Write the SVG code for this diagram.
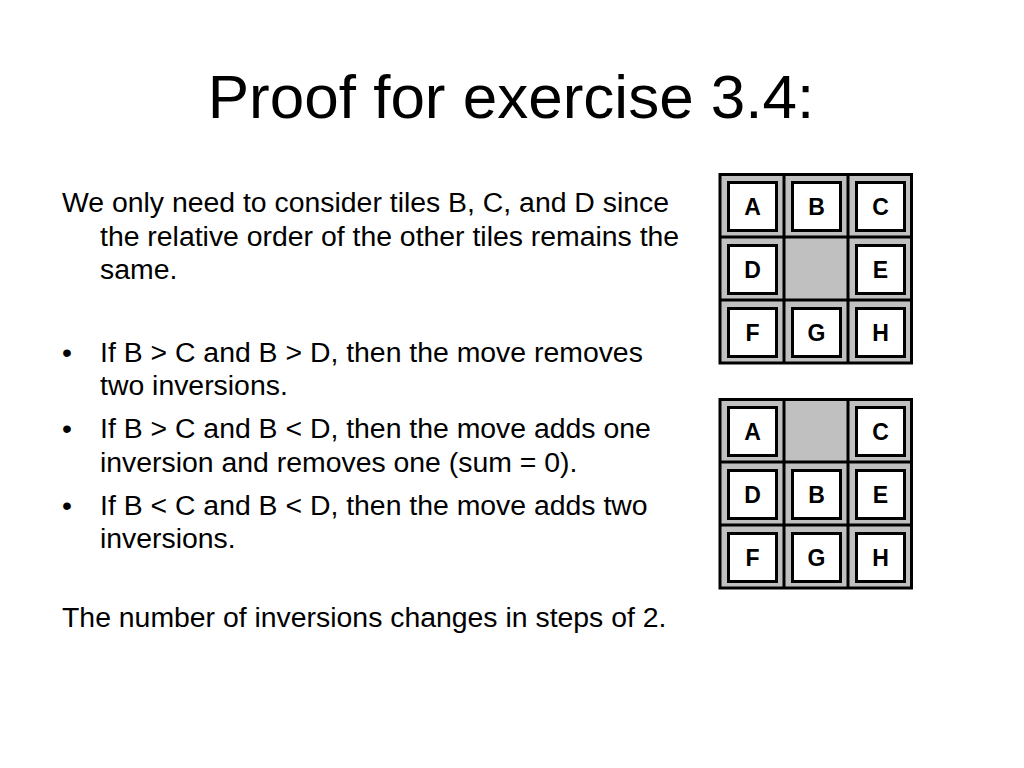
<svg xmlns="http://www.w3.org/2000/svg" width="1024" height="768" viewBox="0 0 1024 768">
<style>
.title{font-family:"Liberation Sans",Arial,sans-serif;font-size:62px;fill:#000}
.body{font-family:"Liberation Sans",Arial,sans-serif;font-size:28.4px;fill:#000}
.frame{fill:#C0C0C0;stroke:#000;stroke-width:3}
.div{stroke:#000;stroke-width:3}
.tile{fill:#fff;stroke:#000;stroke-width:3}
.lbl{font-family:"Liberation Sans",Arial,sans-serif;font-size:23px;font-weight:bold;text-anchor:middle;fill:#000}
</style>
<rect width="1024" height="768" fill="#fff"/>
<text class="title" x="511" y="118" text-anchor="middle">Proof for exercise 3.4:</text>
<g id="text">
<text class="body" x="62" y="212">We only need to consider tiles B, C, and D since</text>
<text class="body" x="100" y="246">the relative order of the other tiles remains the</text>
<text class="body" x="100" y="279">same.</text>
<text class="body" x="62" y="362">•</text>
<text class="body" x="100" y="362">If B &gt; C and B &gt; D, then the move removes</text>
<text class="body" x="100" y="395">two inversions.</text>
<text class="body" x="62" y="438">•</text>
<text class="body" x="100" y="438">If B &gt; C and B &lt; D, then the move adds one</text>
<text class="body" x="100" y="472">inversion and removes one (sum = 0).</text>
<text class="body" x="62" y="515">•</text>
<text class="body" x="100" y="515">If B &lt; C and B &lt; D, then the move adds two</text>
<text class="body" x="100" y="548">inversions.</text>
<text class="body" x="62" y="627">The number of inversions changes in steps of 2.</text>
</g>
<g id="board1">
<rect class="frame" x="720" y="174.5" width="191.5" height="188.5"/>
<line class="div" x1="784" y1="174" x2="784" y2="363"/>
<line class="div" x1="848" y1="174" x2="848" y2="363"/>
<line class="div" x1="720" y1="237" x2="912" y2="237"/>
<line class="div" x1="720" y1="300" x2="912" y2="300"/>
<g id="b1-A"><rect class="tile" x="728.5" y="182.5" width="48" height="48"/><text class="lbl" x="752.5" y="215">A</text></g>
<g id="b1-B"><rect class="tile" x="792.5" y="182.5" width="48" height="48"/><text class="lbl" x="816.5" y="215">B</text></g>
<g id="b1-C"><rect class="tile" x="856.5" y="182.5" width="48" height="48"/><text class="lbl" x="880.5" y="215">C</text></g>
<g id="b1-D"><rect class="tile" x="728.5" y="245.5" width="48" height="48"/><text class="lbl" x="752.5" y="278">D</text></g>
<g id="b1-E"><rect class="tile" x="856.5" y="245.5" width="48" height="48"/><text class="lbl" x="880.5" y="278">E</text></g>
<g id="b1-F"><rect class="tile" x="728.5" y="308.5" width="48" height="48"/><text class="lbl" x="752.5" y="341">F</text></g>
<g id="b1-G"><rect class="tile" x="792.5" y="308.5" width="48" height="48"/><text class="lbl" x="816.5" y="341">G</text></g>
<g id="b1-H"><rect class="tile" x="856.5" y="308.5" width="48" height="48"/><text class="lbl" x="880.5" y="341">H</text></g>
</g>
<g id="board2">
<rect class="frame" x="720" y="399.5" width="191.5" height="188.5"/>
<line class="div" x1="784" y1="399" x2="784" y2="588"/>
<line class="div" x1="848" y1="399" x2="848" y2="588"/>
<line class="div" x1="720" y1="462" x2="912" y2="462"/>
<line class="div" x1="720" y1="525" x2="912" y2="525"/>
<g id="b2-A"><rect class="tile" x="728.5" y="407.5" width="48" height="48"/><text class="lbl" x="752.5" y="440">A</text></g>
<g id="b2-C"><rect class="tile" x="856.5" y="407.5" width="48" height="48"/><text class="lbl" x="880.5" y="440">C</text></g>
<g id="b2-D"><rect class="tile" x="728.5" y="470.5" width="48" height="48"/><text class="lbl" x="752.5" y="503">D</text></g>
<g id="b2-B"><rect class="tile" x="792.5" y="470.5" width="48" height="48"/><text class="lbl" x="816.5" y="503">B</text></g>
<g id="b2-E"><rect class="tile" x="856.5" y="470.5" width="48" height="48"/><text class="lbl" x="880.5" y="503">E</text></g>
<g id="b2-F"><rect class="tile" x="728.5" y="533.5" width="48" height="48"/><text class="lbl" x="752.5" y="566">F</text></g>
<g id="b2-G"><rect class="tile" x="792.5" y="533.5" width="48" height="48"/><text class="lbl" x="816.5" y="566">G</text></g>
<g id="b2-H"><rect class="tile" x="856.5" y="533.5" width="48" height="48"/><text class="lbl" x="880.5" y="566">H</text></g>
</g>
</svg>
